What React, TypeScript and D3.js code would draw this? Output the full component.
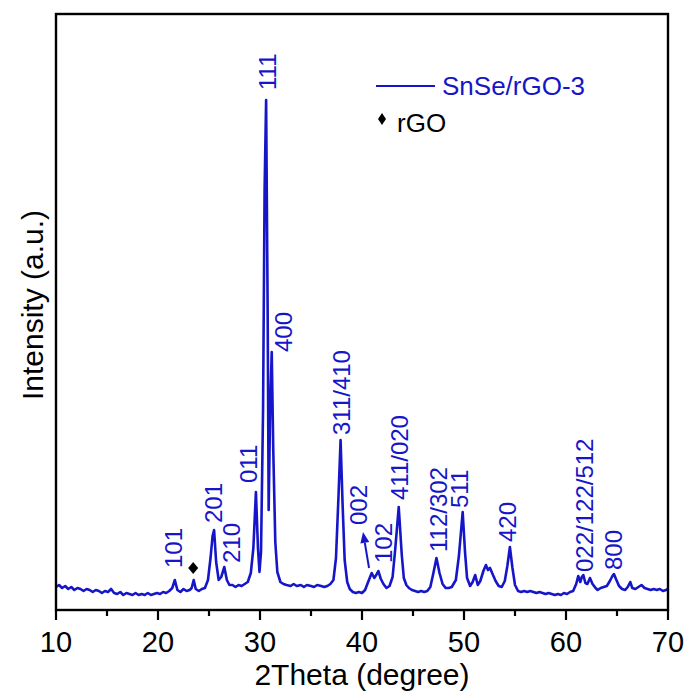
import React from "react";
import * as d3 from "d3";

// XRD pattern (2θ in degrees, intensity in a.u.)
const twoTheta = [
  10.0, 10.3, 10.6, 10.9, 11.2, 11.5, 11.8, 12.1, 12.4, 12.7, 13.0, 13.3, 13.6, 13.9, 14.2, 14.5, 14.8, 15.1, 15.4, 15.7,
  16.0, 16.3, 16.6, 16.9, 17.2, 17.5, 17.8, 18.1, 18.4, 18.7, 19.0, 19.3, 19.6, 19.9, 20.2, 20.5, 20.8, 21.1, 21.4, 21.65,
  21.9, 22.2, 22.5, 22.8, 23.1, 23.3, 23.5, 23.7, 24.0, 24.3, 24.6, 24.9, 25.15, 25.35, 25.5, 25.7, 25.95, 26.2, 26.5, 26.75,
  27.0, 27.3, 27.6, 27.9, 28.2, 28.5, 28.8, 29.1, 29.35, 29.6, 29.8, 29.95, 30.1, 30.3, 30.45, 30.6, 30.75, 30.85, 31.0, 31.15,
  31.3, 31.5, 31.7, 32.0, 32.3, 32.6, 33.0, 33.3, 33.6, 34.0, 34.3, 34.6, 35.0, 35.3, 35.6, 36.0, 36.3, 36.6, 36.9, 37.2,
  37.45, 37.7, 37.9, 38.1, 38.3, 38.55, 38.8, 39.1, 39.4, 39.7, 40.0, 40.3, 40.6, 40.95, 41.2, 41.4, 41.6, 41.85, 42.1, 42.4,
  42.7, 43.0, 43.25, 43.6, 43.9, 44.1, 44.35, 44.6, 44.9, 45.2, 45.5, 45.8, 46.1, 46.4, 46.7, 47.0, 47.3, 47.6, 47.9, 48.2,
  48.5, 48.8, 49.2, 49.5, 49.87, 50.1, 50.3, 50.6, 50.85, 51.1, 51.35, 51.6, 51.9, 52.15, 52.35, 52.55, 52.8, 53.1, 53.4, 53.7,
  54.0, 54.25, 54.5, 54.75, 55.0, 55.3, 55.6, 55.9, 56.2, 56.5, 56.8, 57.1, 57.4, 57.7, 58.0, 58.3, 58.6, 58.9, 59.2, 59.5,
  59.8, 60.1, 60.4, 60.7, 61.0, 61.2, 61.4, 61.55, 61.7, 61.9, 62.1, 62.35, 62.6, 62.9, 63.1, 63.4, 63.7, 64.0, 64.3, 64.55,
  64.7, 64.9, 65.2, 65.5, 65.8, 66.05, 66.3, 66.5, 66.8, 67.1, 67.4, 67.7, 68.0, 68.3, 68.6, 68.9, 69.2, 69.5, 69.8, 70.0,
];
const intensity = [
  23, 25, 22, 24, 21, 23, 20, 22, 21, 19, 21, 20, 18, 20, 19, 17, 19, 18, 21, 17,
  16, 18, 15, 17, 16, 15, 17, 15, 16, 15, 17, 15, 16, 17, 16, 18, 17, 19, 22, 30,
  20, 18, 21, 19, 20, 22, 30, 21, 19, 21, 22, 30, 52, 74, 80, 48, 30, 33, 43, 30,
  25, 25, 23, 25, 24, 26, 28, 37, 62, 118, 62, 38, 58, 200, 420, 510, 300, 100, 205, 258,
  160, 68, 38, 28, 26, 25, 24, 26, 24, 25, 23, 25, 24, 23, 25, 24, 23, 24, 26, 30,
  52, 115, 170, 105, 50, 28, 21, 18, 17, 18, 17, 20, 28, 37, 32, 35, 39, 31, 26, 22,
  24, 33, 60, 103, 55, 32, 25, 22, 20, 19, 18, 19, 18, 19, 23, 37, 52, 37, 26, 22,
  22, 23, 30, 54, 98, 58, 32, 24, 28, 35, 25, 29, 39, 45, 40, 42, 36, 29, 24, 23,
  29, 44, 63, 42, 25, 19, 18, 19, 18, 19, 18, 17, 18, 17, 16, 17, 16, 15, 16, 15,
  17, 16, 18, 19, 26, 34, 28, 33, 35, 27, 26, 32, 26, 22, 20, 22, 23, 24, 29, 34,
  36, 31, 24, 21, 20, 23, 28, 22, 21, 23, 25, 22, 21, 20, 21, 20, 21, 19, 20, 21,
];

// Peak (hkl) annotations: anchor in data coordinates
const peakLabels = ["101", "201", "210", "011", "111", "400", "311/410", "002", "102", "411/020", "112/302", "511", "420", "022/122/512", "800"];
const peakLabelTheta = [22.35, 26.27, 28.04, 29.75, 31.57, 33.14, 38.8, 40.49, 42.94, 44.51, 48.33, 50.39, 55.1, 62.65, 65.49];
const peakLabelIntensity = [42, 87, 47, 127, 520, 258, 175, 85, 47, 110, 58, 102, 68, 38, 40];

const rgoMarkerTheta = 23.45;
const rgoMarkerIntensity = 42;
const arrowFrom = [40.69, 42];
const arrowTo = [40.1, 78];

const xTicks = [10, 15, 20, 25, 30, 35, 40, 45, 50, 55, 60, 65, 70];
const xTickLabels = ["10", "20", "30", "40", "50", "60", "70"];

const BLUE = "#1616c8";
const FONT = "'Liberation Sans', Arial, Helvetica, sans-serif";

export default function App() {
  const W = 689, H = 693;
  const left = 56, right = 668, top = 14, bottom = 610;
  const x = d3.scaleLinear().domain([10, 70]).range([left, right]);
  const y = d3.scaleLinear().domain([0, 596]).range([bottom, top]);
  const pts = twoTheta.map((t, i) => [t, intensity[i]] as [number, number]);
  const line = d3.line<[number, number]>().x(d => x(d[0])).y(d => y(d[1]));

  const ax1 = x(arrowFrom[0]), ay1 = y(arrowFrom[1]);
  const ax2 = x(arrowTo[0]), ay2 = y(arrowTo[1]);
  const ang = Math.atan2(ay2 - ay1, ax2 - ax1);
  const hl = 11, hw = 4.5;
  const bx = ax2 - hl * Math.cos(ang), by = ay2 - hl * Math.sin(ang);
  const head = [
    [ax2, ay2],
    [bx + hw * Math.sin(ang), by - hw * Math.cos(ang)],
    [bx - hw * Math.sin(ang), by + hw * Math.cos(ang)],
  ].map(p => p.join(",")).join(" ");

  const mx = x(rgoMarkerTheta), my = y(rgoMarkerIntensity);

  return (
    <svg width={W} height={H} style={{ position: "absolute", left: 0, top: 0, background: "#fff" }} fontFamily={FONT}>
      <rect x={0} y={0} width={W} height={H} fill="#fff" />
      <path d={line(pts) || ""} fill="none" stroke={BLUE} strokeWidth={2.6} strokeLinejoin="round" />
      {peakLabels.map((lab, i) => (
        <text key={lab} transform={`translate(${x(peakLabelTheta[i])},${y(peakLabelIntensity[i])}) rotate(-90)`}
          fontSize={24} fill={BLUE}>{lab}</text>
      ))}
      <line x1={ax1} y1={ay1} x2={bx} y2={by} stroke={BLUE} strokeWidth={2} />
      <polygon points={head} fill={BLUE} />
      <path d={`M${mx},${my - 6} L${mx + 5},${my} L${mx},${my + 6} L${mx - 5},${my} Z`} fill="#000" />
      {/* frame */}
      <rect x={left} y={top} width={right - left} height={bottom - top} fill="none" stroke="#000" strokeWidth={2.4} />
      {xTicks.map(t => (
        <line key={t} x1={x(t)} x2={x(t)} y1={bottom} y2={bottom + (t % 10 === 0 ? 10 : 6)} stroke="#000" strokeWidth={2.2} />
      ))}
      {xTickLabels.map(l => (
        <text key={l} x={x(+l)} y={652} textAnchor="middle" fontSize={29} fill="#000">{l}</text>
      ))}
      <text x={(left + right) / 2} y={685} textAnchor="middle" fontSize={30} fill="#000">2Theta (degree)</text>
      <text transform={`translate(43,305) rotate(-90)`} textAnchor="middle" fontSize={30} fill="#000">Intensity (a.u.)</text>
      {/* legend */}
      <line x1={376} x2={435} y1={86} y2={86} stroke={BLUE} strokeWidth={2} />
      <text x={442} y={95} fontSize={26} fill={BLUE}>SnSe/rGO-3</text>
      <path d="M382,113 L386,119 L382,125 L378,119 Z" fill="#000" />
      <text x={397} y={132} fontSize={26} fill="#000">rGO</text>
    </svg>
  );
}
